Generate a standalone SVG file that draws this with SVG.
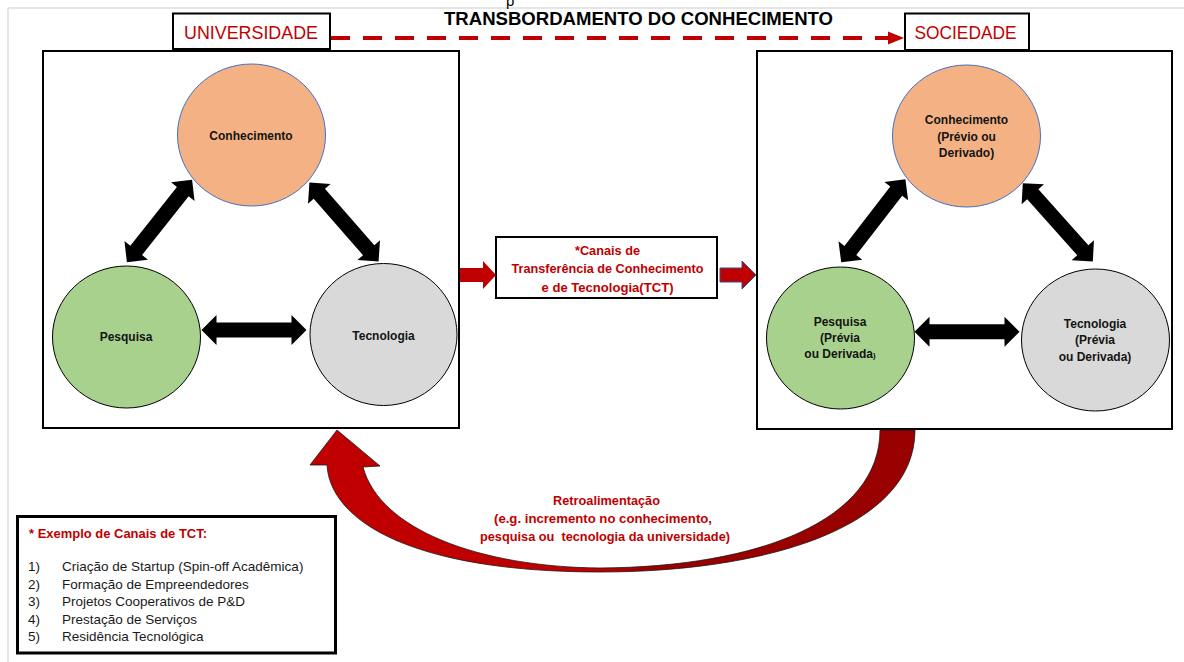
<svg xmlns="http://www.w3.org/2000/svg" width="1184" height="662" viewBox="0 0 1184 662">
<style>
  text { font-family: "Liberation Sans", Arial, sans-serif; }
  .frame { fill: none; stroke: #dcdcdc; stroke-width: 1.5; }
  .box { fill: #ffffff; stroke: #000000; stroke-width: 2; }
  .lbl { font-size: 17.5px; fill: #C00000; text-anchor: middle; }
  .title { font-size: 18px; font-weight: bold; fill: #000000; text-anchor: middle; }
  .ct { font-size: 12px; font-weight: bold; fill: #141414; text-anchor: middle; }
  .red { font-weight: bold; fill: #C00000; text-anchor: middle; }
  .know { fill: #F4B183; stroke: #4472C4; stroke-width: 1; }
  .res { fill: #A9D18E; stroke: #000000; stroke-width: 1; }
  .tec { fill: #D9D9D9; stroke: #000000; stroke-width: 1; }
  .leg { font-size: 13.5px; fill: #1a1a1a; }
</style>
<defs>
  <polygon id="dbl" points="-52.5,0 -37.5,-15 -37.5,-7.5 37.5,-7.5 37.5,-15 52.5,0 37.5,15 37.5,7.5 -37.5,7.5 -37.5,15" fill="#000000"/>
  <linearGradient id="fb" gradientUnits="userSpaceOnUse" x1="310" y1="0" x2="915" y2="0">
    <stop offset="0" stop-color="#C00000"/>
    <stop offset="0.47" stop-color="#C00000"/>
    <stop offset="0.56" stop-color="#990000"/>
    <stop offset="1" stop-color="#990000"/>
  </linearGradient>
</defs>

<!-- page frame -->
<g id="page">
  <line class="frame" x1="8" y1="8" x2="1184" y2="8"/>
  <line class="frame" x1="8" y1="8" x2="8" y2="662"/>
  <text x="506" y="6" font-family="Liberation Serif, serif" font-size="15" fill="#000">p</text>
</g>

<g id="title">
  <text class="title" x="638.5" y="25" textLength="389" lengthAdjust="spacingAndGlyphs">TRANSBORDAMENTO DO CONHECIMENTO</text>
</g>

<!-- big containers -->
<g id="universidade-box">
  <rect class="box" x="43" y="51" width="416" height="377"/>
</g>
<g id="sociedade-box">
  <rect class="box" x="757" y="51" width="415" height="378"/>
</g>

<g id="universidade-label">
  <rect class="box" x="173" y="13.5" width="157" height="35.5"/>
  <text class="lbl" x="251" y="38.5" textLength="134" lengthAdjust="spacingAndGlyphs">UNIVERSIDADE</text>
</g>
<g id="sociedade-label">
  <rect class="box" x="905" y="13.5" width="124" height="36.5"/>
  <text class="lbl" x="965.5" y="38.5" textLength="102" lengthAdjust="spacingAndGlyphs">SOCIEDADE</text>
</g>

<!-- left nodes -->
<g id="u-conhecimento">
  <ellipse class="know" cx="251.5" cy="135" rx="74" ry="71"/>
  <text class="ct" x="251" y="139.5">Conhecimento</text>
</g>
<g id="u-pesquisa">
  <ellipse class="res" cx="126.5" cy="337" rx="74" ry="71"/>
  <text class="ct" x="126" y="341">Pesquisa</text>
</g>
<g id="u-tecnologia">
  <ellipse class="tec" cx="383.5" cy="334.5" rx="73.5" ry="71"/>
  <text class="ct" x="383.5" y="339.5">Tecnologia</text>
</g>

<!-- right nodes -->
<g id="s-conhecimento">
  <ellipse class="know" cx="966.5" cy="136" rx="74" ry="71"/>
  <text class="ct" x="966.5" y="124">Conhecimento</text>
  <text class="ct" x="966.5" y="140.5">(Prévio ou</text>
  <text class="ct" x="966.5" y="156.5">Derivado)</text>
</g>
<g id="s-pesquisa">
  <ellipse class="res" cx="840.5" cy="338" rx="74" ry="71"/>
  <text class="ct" x="840" y="325.5">Pesquisa</text>
  <text class="ct" x="840" y="342">(Prévia</text>
  <text class="ct" x="840" y="358">ou Derivada<tspan font-size="8">)</tspan></text>
</g>
<g id="s-tecnologia">
  <ellipse class="tec" cx="1095.5" cy="340" rx="74" ry="71"/>
  <text class="ct" x="1095" y="327.5">Tecnologia</text>
  <text class="ct" x="1095" y="344">(Prévia</text>
  <text class="ct" x="1095" y="360.5">ou Derivada)</text>
</g>

<!-- TCT channel box -->
<g id="tct">
  <rect class="box" x="496" y="237" width="221" height="61"/>
  <text class="red" font-size="12.6" x="607.5" y="255" textLength="65" lengthAdjust="spacingAndGlyphs">*Canais de</text>
  <text class="red" font-size="12.6" x="607.5" y="273" textLength="192" lengthAdjust="spacingAndGlyphs">Transferência de Conhecimento</text>
  <text class="red" font-size="12.6" x="607.5" y="291.5" textLength="132" lengthAdjust="spacingAndGlyphs">e de Tecnologia(TCT)</text>
</g>

<!-- legend -->
<g id="legend">
  <rect x="17.5" y="516.5" width="318" height="136.5" fill="#ffffff" stroke="#000000" stroke-width="3"/>
  <text class="red" font-size="13" x="29" y="537.5" style="text-anchor:start" textLength="178" lengthAdjust="spacingAndGlyphs">* Exemplo de Canais de TCT:</text>
  <text class="leg" x="28" y="571">1)</text>
  <text class="leg" x="62" y="571">Criação de Startup (Spin-off Acadêmica)</text>
  <text class="leg" x="28" y="588.5">2)</text>
  <text class="leg" x="62" y="588.5">Formação de Empreendedores</text>
  <text class="leg" x="28" y="606">3)</text>
  <text class="leg" x="62" y="606">Projetos Cooperativos de P&amp;D</text>
  <text class="leg" x="28" y="623.5">4)</text>
  <text class="leg" x="62" y="623.5">Prestação de Serviços</text>
  <text class="leg" x="28" y="641">5)</text>
  <text class="leg" x="62" y="641">Residência Tecnológica</text>
</g>

<!-- connectors -->
<g id="connectors">
  <!-- dashed spillover arrow -->
  <line x1="331" y1="38" x2="889" y2="38" stroke="#C00000" stroke-width="4" stroke-dasharray="19 13"/>
  <polygon points="888,31.5 904,38 888,44.5" fill="#C00000"/>

  <!-- left triangle -->
  <use href="#dbl" transform="translate(159.5,221) rotate(-51.6)"/>
  <use href="#dbl" transform="translate(344,222) rotate(48.8)"/>
  <use href="#dbl" transform="translate(254,330)"/>

  <!-- right triangle -->
  <use href="#dbl" transform="translate(873.3,220.8) rotate(-52.3)"/>
  <use href="#dbl" transform="translate(1057.8,222.3) rotate(48.2)"/>
  <use href="#dbl" transform="translate(967,331.7)"/>

  <!-- red block arrows through TCT -->
  <polygon points="460,268 483,268 483,261 496,275 483,289 483,282 460,282" fill="#C00000"/>
  <polygon points="720,268 742,268 742,261 756,275 742,289 742,282 720,282" fill="#C00000" stroke="#2F528F" stroke-width="1"/>

  <!-- feedback curved arrow -->
  <path d="M327,465 C330,520 410,572 600,572 C760,572 915,530 915,430 L880,430 C880,520 760,567 600,568 C480,567 380,530 363,467 L380,466 L337,430 L310,465 Z" fill="url(#fb)" stroke="#1a1a1a" stroke-width="0.8" stroke-linejoin="round"/>
</g>

<g id="feedback-label">
  <text class="red" font-size="12.5" x="606.5" y="505" textLength="107" lengthAdjust="spacingAndGlyphs">Retroalimentação</text>
  <text class="red" font-size="12.5" x="603" y="523" textLength="218" lengthAdjust="spacingAndGlyphs">(e.g. incremento no conhecimento,</text>
  <text class="red" font-size="12.5" x="605" y="541" textLength="250" lengthAdjust="spacingAndGlyphs" style="white-space:pre">pesquisa ou  tecnologia da universidade)</text>
</g>
</svg>
